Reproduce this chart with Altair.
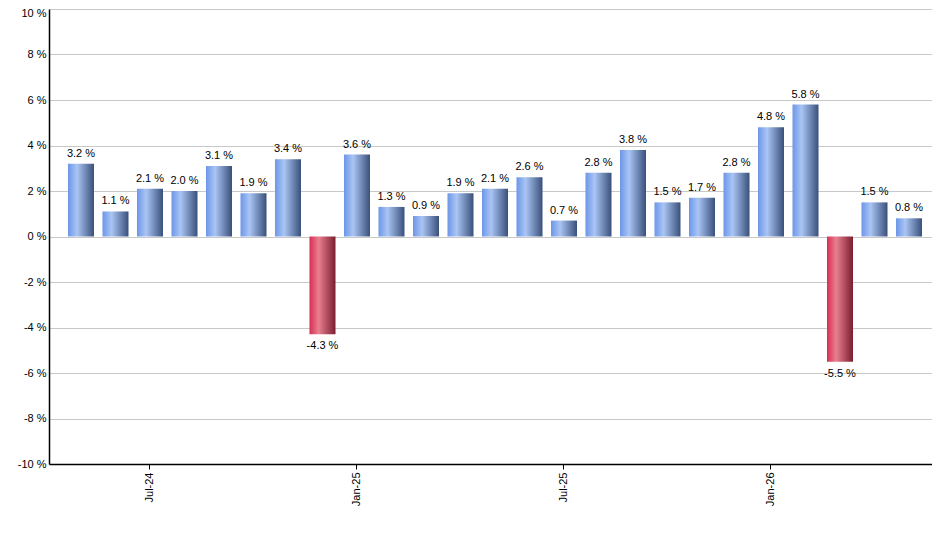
import altair as alt
import pandas as pd

months = ["May-24", "Jun-24", "Jul-24", "Aug-24", "Sep-24", "Oct-24", "Nov-24", "Dec-24",
          "Jan-25", "Feb-25", "Mar-25", "Apr-25", "May-25", "Jun-25", "Jul-25", "Aug-25",
          "Sep-25", "Oct-25", "Nov-25", "Dec-25", "Jan-26", "Feb-26", "Mar-26", "Apr-26", "May-26"]
values = [3.2, 1.1, 2.1, 2.0, 3.1, 1.9, 3.4, -4.3, 3.6, 1.3, 0.9, 1.9, 2.1, 2.6, 0.7, 2.8,
          3.8, 1.5, 1.7, 2.8, 4.8, 5.8, -5.5, 1.5, 0.8]
tick_labels = ["Jul-24", "Jan-25", "Jul-25", "Jan-26"]
y_ticks = [-10, -8, -6, -4, -2, 0, 2, 4, 6, 8, 10]

df = pd.DataFrame({"month": months, "v": values})

FONT = "Liberation Sans"

blue = alt.Gradient(
    gradient="linear", x1=0, x2=1, y1=0, y2=0,
    stops=[alt.GradientStop(color="#6c96e8", offset=0),
           alt.GradientStop(color="#aac5f4", offset=0.35),
           alt.GradientStop(color="#39507a", offset=1)])
red = alt.Gradient(
    gradient="linear", x1=0, x2=1, y1=0, y2=0,
    stops=[alt.GradientStop(color="#d82d55", offset=0),
           alt.GradientStop(color="#e8808f", offset=0.35),
           alt.GradientStop(color="#7a1e30", offset=1)])

x_enc = alt.X("month:N", sort=months,
              scale=alt.Scale(paddingInner=0.246, paddingOuter=0.42, align=0.655),
              axis=alt.Axis(values=tick_labels, labelAngle=270, title=None,
                            grid=False, domainColor="#000000", domainWidth=1.5,
                            tickColor="#000000", tickSize=5, labelPadding=3,
                            labelFont=FONT, labelFontSize=11, labelColor="#000000"))
y_enc = alt.Y("v:Q",
              scale=alt.Scale(domain=[-10, 10], nice=False),
              axis=alt.Axis(values=y_ticks, title=None, ticks=False, labelPadding=3,
                            labelExpr="datum.value + ' %'", grid=True,
                            labelOffset={"condition": {"test": "datum.value == 10", "value": 4},
                                         "value": 0},
                            gridColor="#c8c8c8", gridWidth=1,
                            domainColor="#000000", domainWidth=1.5,
                            labelFont=FONT, labelFontSize=11, labelColor="#000000"))

base = alt.Chart(df).transform_calculate(
    label="(datum.v < 0 ? '-' : '') + format(abs(datum.v), '.1f') + ' %'"
)

pos_bars = base.transform_filter("datum.v >= 0").mark_bar(color=blue).encode(
    x=x_enc, y=y_enc, y2=alt.datum(0))
neg_bars = base.transform_filter("datum.v < 0").mark_bar(color=red).encode(
    x=x_enc, y=y_enc, y2=alt.datum(0))

pos_text = base.transform_filter("datum.v >= 0").mark_text(
    baseline="alphabetic", dy=-7, font=FONT, fontSize=11, color="#000000").encode(
    x=x_enc, y=y_enc, text="label:N")
neg_text = base.transform_filter("datum.v < 0").mark_text(
    baseline="top", dy=6, font=FONT, fontSize=11, color="#000000").encode(
    x=x_enc, y=y_enc, text="label:N")

chart = alt.layer(pos_bars, neg_bars, pos_text, neg_text).properties(
    width=883, height=455,
    autosize=alt.AutoSizeParams(type="none"),
    padding={"left": 41, "top": 1, "right": 0, "bottom": 80},
).configure_view(stroke=None).configure(background="#ffffff")

chart.save("out.html", embed_options={"renderer": "svg", "actions": False})
